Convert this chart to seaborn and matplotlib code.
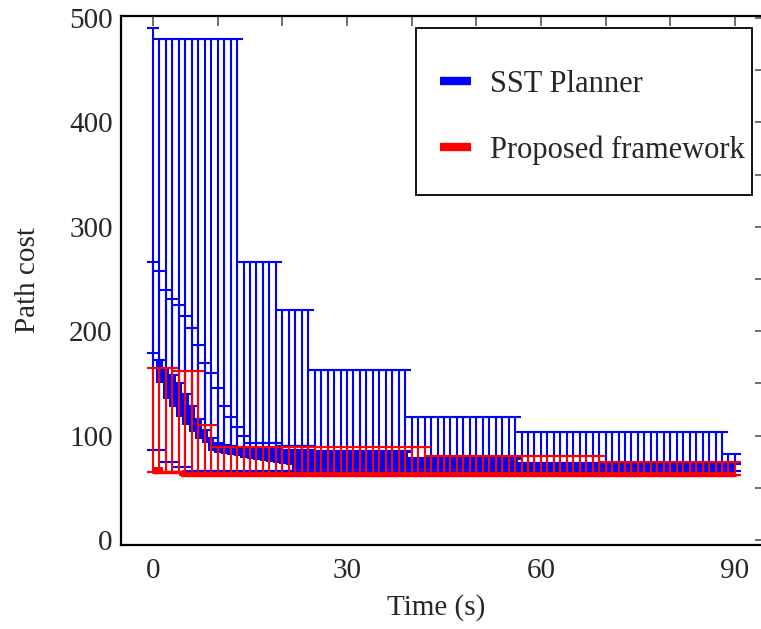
import numpy as np
import pandas as pd
import seaborn as sns
import matplotlib.pyplot as plt
from matplotlib.patches import Rectangle

# time stamps (s), one sample per second
time_s = list(range(0, 91))

# SST planner: per-second min / quartiles / max of path cost
sst_max = ([490] + [480] * 13 + [266] * 6 + [220] * 5 + [163] * 15
           + [118] * 17 + [103] * 32 + [82] * 2)
sst_q3 = ([266, 258, 239, 231, 225, 215, 203, 187, 170, 160, 146, 128, 118, 108, 100]
          + [93] * 5 + [90] * 5 + [85] * 15 + [79] * 17 + [74] * 34)
sst_q1 = ([179, 172, 165, 158, 150, 140, 128, 116, 105, 98, 93, 91, 90, 89, 88]
          + [88] * 5 + [86] * 5 + [84] * 15 + [78] * 17 + [73] * 34)
sst_core_lo = ([179, 150, 135, 127, 118, 110, 103, 97, 93, 85, 83, 82, 81, 80, 79,
                78, 77, 76, 75, 74, 73, 72] + [67] * 69)
sst_min = [86, 86, 75, 75, 70, 70] + [66] * 85

# Proposed framework
prop_max = [165] * 4 + [162] * 4 + [110] * 2 + [89] * 33 + [80] * 27 + [75] * 21
prop_min = [65] * 5 + [62] * 86
prop_q3 = [70, 70, 66, 66, 66] + [67] * 86
prop_q1 = [64] * 5 + [61] * 86

BLUE = "#0000ff"
RED = "#ff0000"

df = pd.DataFrame({
    "t": time_s,
    "sst_max": sst_max, "sst_q3": sst_q3, "sst_q1": sst_q1,
    "sst_core_lo": sst_core_lo, "sst_min": sst_min,
    "prop_max": prop_max, "prop_min": prop_min,
    "prop_q3": prop_q3, "prop_q1": prop_q1,
})

sns.set_style("white")
plt.rcParams["font.family"] = ["Liberation Serif", "DejaVu Serif"]

W, H = 761, 629
fig = plt.figure(figsize=(W / 100, H / 100), dpi=100)
# right spine sits just past the picture edge, as in the reference crop
ax = fig.add_axes([121 / W, 84 / H, 644 / W, 529 / H])


def draw_bars(lo, hi, color, lw=1.5, cap=4.5):
    ax.errorbar(df["t"], df[lo], yerr=[np.zeros(len(df)), df[hi] - df[lo]],
                fmt="none", ecolor=color, elinewidth=lw, capsize=cap, capthick=lw)


# SST planner
draw_bars("sst_min", "sst_max", BLUE)
draw_bars("sst_q1", "sst_q3", BLUE)
ax.fill_between(df["t"], df["sst_core_lo"], df["sst_q1"], step="mid",
                color=BLUE, lw=0)

# proposed framework
draw_bars("prop_min", "prop_max", RED)
ax.fill_between(df["t"], df["prop_q1"], df["prop_q3"], step="mid",
                color=RED, lw=0)
sns.lineplot(data=df, x="t", y="prop_min", color=RED, lw=2.5,
             drawstyle="steps-mid", ax=ax, legend=False)

ax.set_xlim(-4.95, 94.65)
ax.set_ylim(-4.8, 501.9)

ax.set_xticks(range(0, 91, 10))
ax.set_xticklabels([str(v) if v % 30 == 0 else "" for v in range(0, 91, 10)])
ax.set_yticks(range(0, 501, 50))
ax.set_yticklabels([str(v) if v % 100 == 0 else "" for v in range(0, 501, 50)])
ax.tick_params(direction="in", length=7.5, width=1.2, color="#555555",
               labelsize=21, top=True, right=True)
ax.tick_params(axis="x", pad=9)
ax.tick_params(axis="y", pad=6)

for sp in ax.spines.values():
    sp.set_color("black")
    sp.set_linewidth(1.6)

ax.set_xlabel("Time (s)", fontsize=21)
ax.set_ylabel("Path cost", fontsize=21)
ax.xaxis.set_label_coords(0.49, -0.092)
ax.yaxis.set_label_coords(-0.125, 0.5)

# legend box drawn by hand so the padding can follow the reference
fig.patches.append(Rectangle((416 / W, 1 - 195 / H), 336 / W, 167 / H,
                             transform=fig.transFigure, fill=True,
                             facecolor="white", edgecolor="black", lw=1.3,
                             zorder=5))
h1 = plt.Line2D([], [], color=BLUE, lw=6, solid_capstyle="butt")
h2 = plt.Line2D([], [], color=RED, lw=6, solid_capstyle="butt")
leg = fig.legend([h1, h2], ["SST Planner", "Proposed framework"],
                 loc="upper left", bbox_to_anchor=(440 / W, 1 - 70 / H),
                 fontsize=22, frameon=False, handlelength=1.0,
                 handletextpad=0.65, labelspacing=1.2, borderpad=0,
                 borderaxespad=0)
leg.set_zorder(6)

fig.savefig("out.png", dpi=100)
